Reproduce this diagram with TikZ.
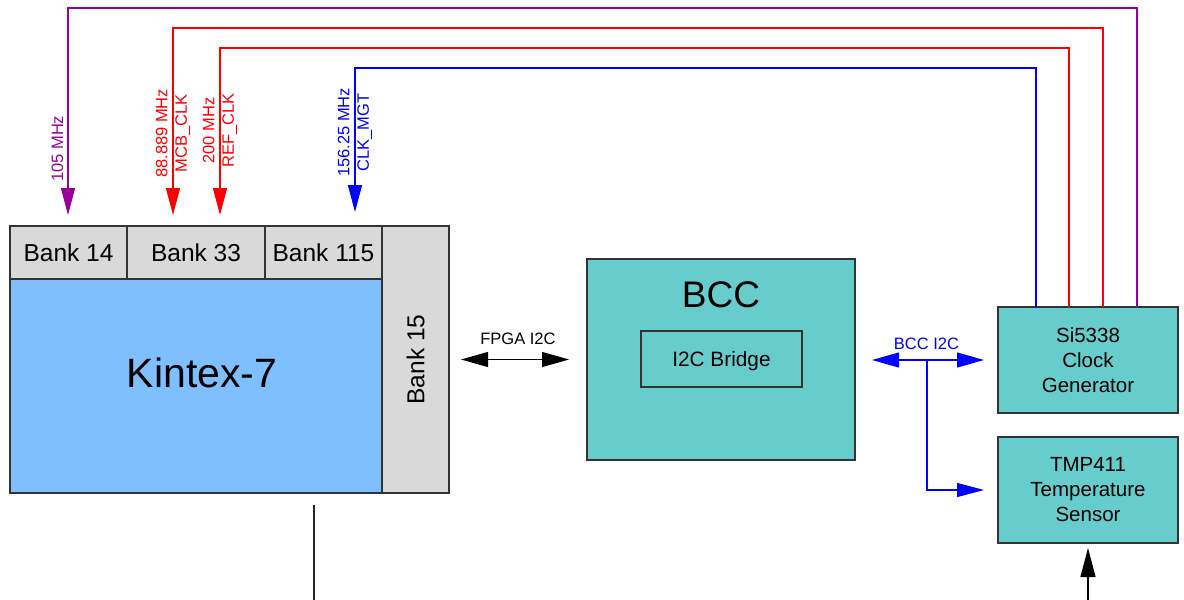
\documentclass[tikz,border=0pt]{standalone}
\usepackage{fontspec}
\setmainfont{Liberation Sans}
\usetikzlibrary{arrows.meta}

\definecolor{fpgablue}{RGB}{128,191,255}
\definecolor{bankgray}{RGB}{217,217,217}
\definecolor{chipteal}{RGB}{102,204,204}
\definecolor{clkpurple}{RGB}{153,0,153}

\begin{document}
\begin{tikzpicture}[x = 1pt, y = -1pt,
        boxline/.style = {draw = black!80, line width = 1.2pt, inner sep = 0pt, outer sep = 0pt},
        bankbox/.style = {boxline, fill = bankgray, font = {\fontsize{24.5}{28}\selectfont}},
        chipbox/.style = {boxline, fill = chipteal, align = center, font = {\fontsize{20.5}{25}\selectfont}},
        clkline/.style = {line width = 1.2pt, -{Triangle[length = 27pt, width = 14pt]}, shorten > = 11pt},
        clklabel/.style = {rotate = 90, align = center, inner sep = 0pt, font = {\fontsize{16.5}{19.5}\selectfont}},
        busline/.style = {line width = 1.2pt, {Triangle[length = 27pt, width = 15pt]}-{Triangle[length = 27pt, width = 15pt]}},
        buslabel/.style = {inner sep = 0pt, font = {\fontsize{16.5}{19}\selectfont}}
    ]
        \useasboundingbox (0, 0) rectangle (1184, 600);

        % FPGA with its banks
        \node[boxline, fill = fpgablue, minimum width = 372pt, minimum height = 214pt,
            label = {[anchor = center, xshift = 6pt, yshift = 13pt, font = {\fontsize{41}{44}\selectfont}]center:Kintex-7}] (kintex) at (196, 386) {};
        \node[bankbox, minimum width = 117pt, minimum height = 53pt] (bank14) at (68.5, 252.5) {Bank 14};
        \node[bankbox, minimum width = 138pt, minimum height = 53pt] (bank33) at (196, 252.5) {Bank 33};
        \node[bankbox, minimum width = 117pt, minimum height = 53pt] (bank115) at (323.5, 252.5) {Bank 115};
        \node[bankbox, minimum width = 67pt, minimum height = 267pt] (bank15) at (415.5, 359.5) {\rotatebox{90}{Bank 15}};

        % BCC
        \node[chipbox, minimum width = 268pt, minimum height = 201pt,
            label = {[anchor = center, yshift = -36pt, font = {\fontsize{37}{40}\selectfont}]north:BCC}] (bcc) at (721, 359.5) {};
        \node[chipbox, fill = none, minimum width = 161pt, minimum height = 56pt, text depth = 0pt,
            font = {\fontsize{20.8}{24}\selectfont}] (bridge) at (721.5, 359) {I2C Bridge};

        % clock generator and sensor
        \node[chipbox, minimum width = 180pt, minimum height = 106pt] (si) at (1088, 360) {Si5338\\Clock\\Generator};
        \node[chipbox, minimum width = 180pt, minimum height = 106pt] (tmp) at (1088, 490) {TMP411\\Temperature\\Sensor};

        % clocks
        \draw[clkline, clkpurple] ([xshift = 49pt]si.north) |- ([xshift = -0.5pt, yshift = 218pt]bank14.north) -- ([xshift = -0.5pt]bank14.north);
        \draw[clkline, red] ([xshift = 15pt]si.north) |- ([xshift = -23pt, yshift = 198pt]bank33.north) -- ([xshift = -23pt]bank33.north);
        \draw[clkline, red] ([xshift = -19pt]si.north) |- ([xshift = 24pt, yshift = 178pt]bank33.north) -- ([xshift = 24pt]bank33.north);
        \draw[clkline, blue, shorten > = 14pt] ([xshift = -52pt]si.north) |- ([xshift = 31.5pt, yshift = 158pt]bank115.north) -- ([xshift = 31.5pt]bank115.north);

        \node[clklabel, clkpurple, anchor = base west] at (63, 182) {105 MHz};
        \node[clklabel, red, anchor = west] at (173, 178) {88.889 MHz\\MCB\_CLK};
        \node[clklabel, red, anchor = west] at (220, 168) {200 MHz\\REF\_CLK};
        \node[clklabel, blue, anchor = west] at (355, 177) {156.25 MHz\\CLK\_MGT};

        % I2C
        \draw[busline, shorten < = 12pt, shorten > = 18pt] (bank15) -- (bcc)
            node[buslabel, midway, yshift = 21pt] {FPGA I2C};
        \draw[busline, blue, shorten < = 17pt, shorten > = 14pt] (bcc.east |- si.west) -- (si.west)
            node[buslabel, midway, yshift = 16pt] {BCC I2C};
        \coordinate (tap) at (927, 360);
        \draw[clkline, blue, shorten > = 14pt] (tap) |- (tmp.west);

        % outside connections
        \coordinate (tmpin) at (1088, 600);
        \draw[line width = 1.2pt, -{Triangle[length = 29pt, width = 15pt]}, shorten > = 5pt] (tmpin) -- (tmp.south);
        \coordinate (kend) at (314, 505);
        \coordinate (kout) at (314, 600);
        \draw[line width = 1.2pt, black!85] (kend) -- (kout);
    \end{tikzpicture}
\end{document}
